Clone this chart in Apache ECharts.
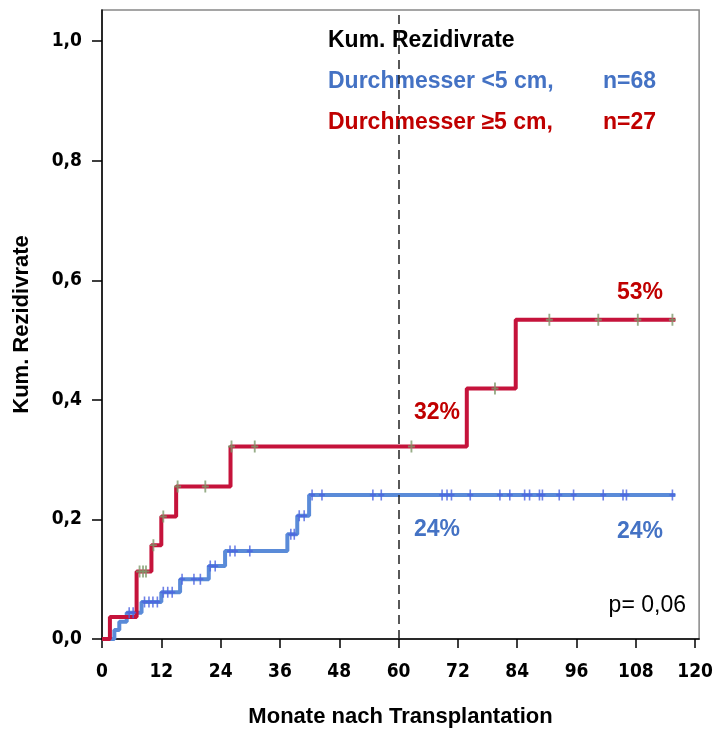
<!DOCTYPE html>
<html><head><meta charset="utf-8">
<script src="https://cdn.jsdelivr.net/npm/echarts@6/dist/echarts.min.js"></script>
<style>html,body{margin:0;padding:0;background:#fff}#c{width:716px;height:733px}</style>
</head><body><div id="c"></div>
<script>
// ---- data ----
var xTicks = [0, 12, 24, 36, 48, 60, 72, 84, 96, 108, 120];
var yTicks = [0, 0.2, 0.4, 0.6, 0.8, 1.0];
// step curve for diameter >= 5 cm (n=27): [month, cumulative recurrence]
var redSteps = [[0,0],[1.6,0.037],[7,0.113],[10,0.157],[12,0.205],[15,0.255],[26,0.322],[73.8,0.419],[83.7,0.534],[116,0.534]];
var redCensor = [7.6,8.3,8.9,10.4,12.4,15.3,20.9,26.2,30.9,62.6,79.5,90.5,100.4,108.4,115.4];
// step curve for diameter < 5 cm (n=68)
var blueSteps = [[0,0],[2.5,0.015],[3.5,0.029],[5,0.044],[8,0.062],[12,0.078],[15.8,0.100],[21.6,0.122],[24.9,0.147],[37.5,0.175],[39.5,0.206],[41.9,0.241],[116,0.241]];
var blueCensor = [5.5,6.3,8.6,9.5,10.3,11.2,12.4,13.3,14.2,16.2,18.6,19.9,21.9,22.9,25.9,26.9,29.9,38.2,38.9,39.9,40.9,42.5,44.5,54.8,56.5,68.8,69.8,70.7,74.5,80.5,82.5,85.5,86.5,88.5,89.1,92.5,95.4,101.4,105.4,106.1,115.4];
var refMonth = 60;

function stepValue(steps, t){ var v = 0; for (var i=0;i<steps.length;i++){ if (steps[i][0] <= t) v = steps[i][1]; } return v; }
function censorPoints(steps, times){ return times.map(function(t){ return [t, stepValue(steps,t)]; }); }

var RED = '#c5133b', BLUE = '#5a8bd8', REDTXT = '#c00000', BLUETXT = '#4472c4';
var F = "'Liberation Sans', Arial, sans-serif";
var FN = "'Liberation Sans Narrow', 'DejaVu Sans Condensed', 'Liberation Sans', sans-serif";
var plus = 'path://M-0.8,-5L0.8,-5L0.8,-0.8L3,-0.8L3,0.8L0.8,0.8L0.8,5L-0.8,5L-0.8,0.8L-3,0.8L-3,-0.8L-0.8,-0.8Z';

var chart = echarts.init(document.getElementById('c'), null, {renderer:'canvas'});
chart.setOption({
  animation:false,
  backgroundColor:'#fff',
  grid:{left:102, right:9, top:10, bottom:93, show:true, borderColor:'#888', borderWidth:1.5},
  xAxis:{type:'value', min:0, max:120.8,
    name:'Monate nach Transplantation', nameLocation:'middle', nameGap:67,
    nameTextStyle:{fontFamily:F, fontWeight:'bold', fontSize:22, color:'#000'},
    axisLine:{lineStyle:{color:'#000', width:1.5}},
    axisTick:{customValues:xTicks, length:9, lineStyle:{color:'#000', width:1.5}},
    axisLabel:{customValues:xTicks, margin:24, fontFamily:FN, fontWeight:'bold', fontSize:19, color:'#000'},
    splitLine:{show:false}},
  yAxis:{type:'value', min:0, max:1.052,
    name:'Kum. Rezidivrate', nameLocation:'middle', nameGap:69,
    nameTextStyle:{fontFamily:F, fontWeight:'bold', fontSize:22, color:'#000'},
    axisLine:{lineStyle:{color:'#000', width:1.5}},
    axisTick:{customValues:yTicks, length:10, lineStyle:{color:'#000', width:1.5}},
    axisLabel:{customValues:yTicks, margin:20, fontFamily:FN, fontWeight:'bold', fontSize:19, color:'#000',
      formatter:function(v){ return v.toFixed(1).replace('.', ','); }},
    splitLine:{show:false}},
  series:[
    {type:'line', step:'end', data:blueSteps, symbol:'none', lineStyle:{color:BLUE, width:4}, z:2,
     markLine:{silent:true, symbol:'none', label:{show:false},
       lineStyle:{color:'#222', width:1.5, type:[9,6]}, data:[{xAxis:refMonth}]}},
    {type:'line', step:'end', data:redSteps, symbol:'none', lineStyle:{color:RED, width:4}, z:3},
    {type:'scatter', data:censorPoints(blueSteps, blueCensor), symbol:plus, symbolSize:[6,11],
     itemStyle:{color:'#4a62e0'}, z:4},
    {type:'scatter', data:censorPoints(redSteps, redCensor), symbol:plus, symbolSize:[7,12],
     itemStyle:{color:'#7e9a6c'}, z:5}
  ],
  graphic:[
    {type:'text', left:328, top:29, style:{text:'Kum. Rezidivrate', font:'bold 23px '+F, fill:'#000'}},
    {type:'text', left:328, top:70, style:{text:'Durchmesser <5 cm,', font:'bold 23px '+F, fill:BLUETXT}},
    {type:'text', left:603, top:70, style:{text:'n=68', font:'bold 23px '+F, fill:BLUETXT}},
    {type:'text', left:328, top:111, style:{text:'Durchmesser \u22655 cm,', font:'bold 23px '+F, fill:REDTXT}},
    {type:'text', left:603, top:111, style:{text:'n=27', font:'bold 23px '+F, fill:REDTXT}},
    {type:'text', x:437, y:413, style:{text:'32%', font:'bold 23px '+F, fill:REDTXT, align:'center', verticalAlign:'middle'}},
    {type:'text', x:640, y:293, style:{text:'53%', font:'bold 23px '+F, fill:REDTXT, align:'center', verticalAlign:'middle'}},
    {type:'text', x:437, y:530, style:{text:'24%', font:'bold 23px '+F, fill:BLUETXT, align:'center', verticalAlign:'middle'}},
    {type:'text', x:640, y:532, style:{text:'24%', font:'bold 23px '+F, fill:BLUETXT, align:'center', verticalAlign:'middle'}},
    {type:'text', x:686, y:606, style:{text:'p= 0,06', font:'23px '+F, fill:'#000', align:'right', verticalAlign:'middle'}}
  ]
});
</script></body></html>
